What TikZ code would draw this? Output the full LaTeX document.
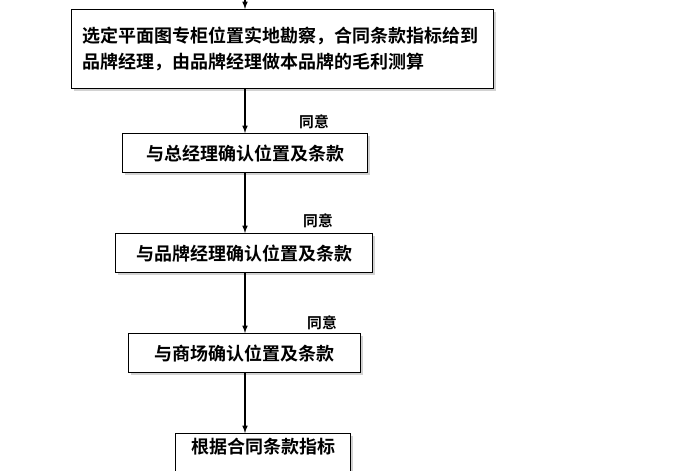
\documentclass[tikz,border=0pt]{standalone}
\usepackage{fontspec}
\newfontfamily\cjk{Noto Sans CJK SC Bold}
\usetikzlibrary{positioning,shadows}
\tikzset{
  stepbox/.style={draw, thick, fill=white, drop shadow={shadow xshift=2pt, shadow yshift=-2pt, fill=gray!70},
    font=\cjk\fontsize{12.8}{18}\selectfont, inner sep=0pt, anchor=north west},
  flow/.style={-latex, thick},
  agree/.style={font=\cjk\fontsize{10.5}{12}\selectfont}
}
\begin{document}
\begin{tikzpicture}[x=0.025cm,y=-0.025cm]
  \useasboundingbox[clip] (0,0) rectangle (700,470);
  \fill[white] (0,0) rectangle (700,470);

  \node[stepbox, minimum width=422*0.025cm, minimum height=79*0.025cm, align=left, text width=400*0.025cm] (survey) at (71,9)
    {选定平面图专柜位置实地勘察，合同条款指标给到\\品牌经理，由品牌经理做本品牌的毛利测算};
  \node[stepbox, minimum width=245*0.025cm, minimum height=39*0.025cm] (gm) at (122,133) {与总经理确认位置及条款};
  \node[stepbox, minimum width=257*0.025cm, minimum height=39*0.025cm] (bm) at (115,233) {与品牌经理确认位置及条款};
  \node[stepbox, minimum width=232*0.025cm, minimum height=39*0.025cm] (mall) at (128,333) {与商场确认位置及条款};
  \node[stepbox, minimum width=175*0.025cm, minimum height=45*0.025cm, text depth=20*0.025cm] (terms) at (175,433) {根据合同条款指标};

  \coordinate (start) at (245,-5);
  \draw[flow] (start) -- (start |- survey.north);
  \draw[flow] (survey.south -| start) -- (start |- gm.north);
  \draw[flow] (gm.south -| start) -- (start |- bm.north);
  \draw[flow] (bm.south -| start) -- (start |- mall.north);
  \draw[flow] (mall.south -| start) -- (start |- terms.north);

  \node[agree] (ok1) at (314,122) {同意};
  \node[agree] (ok2) at (318,221) {同意};
  \node[agree] (ok3) at (322,323) {同意};
\end{tikzpicture}
\end{document}
